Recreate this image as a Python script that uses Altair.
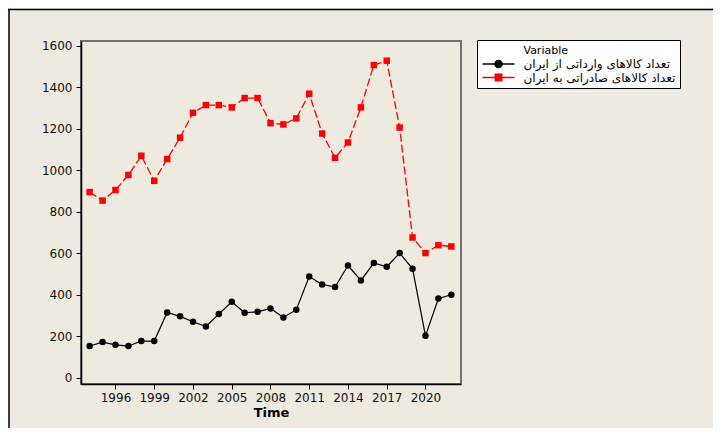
import altair as alt
import pandas as pd

years = list(range(1994, 2023))
imports_from_iran = [153, 172, 159, 153, 177, 177, 315, 296, 270, 247, 307, 366, 313, 318, 334,
                     291, 328, 488, 450, 437, 541, 469, 553, 535, 601, 525, 202, 382, 400]
exports_to_iran = [895, 854, 905, 977, 1070, 949, 1054, 1157, 1277, 1314, 1314, 1303, 1348, 1348, 1227,
                   1221, 1250, 1369, 1177, 1060, 1134, 1303, 1507, 1528, 1206, 676, 601, 639, 633]
series_names = ["تعداد کالاهای وارداتی از ایران", "تعداد کالاهای صادراتی به ایران"]
x_ticks = [1996, 1999, 2002, 2005, 2008, 2011, 2014, 2017, 2020]
y_ticks = [0, 200, 400, 600, 800, 1000, 1200, 1400, 1600]

rows = []
for y, v in zip(years, imports_from_iran):
    rows.append({"Time": y, "Value": v, "Variable": series_names[0]})
for y, v in zip(years, exports_to_iran):
    rows.append({"Time": y, "Value": v, "Variable": series_names[1]})
df = pd.DataFrame(rows)

FONT = "DejaVu Sans"
BLACK = "#000000"
RED = "#ff0000"

x_enc = alt.X("Time:Q",
              scale=alt.Scale(domain=[1993.33, 2022.75], nice=False, zero=False),
              axis=alt.Axis(values=x_ticks, format="d", title="Time", grid=False,
                            labelPadding=3, titlePadding=3, tickSize=5))
y_enc = alt.Y("Value:Q",
              scale=alt.Scale(domain=[-30, 1623], nice=False, zero=False),
              axis=alt.Axis(values=y_ticks, format="d", title=None, grid=False,
                            labelPadding=4, tickSize=5))

base = alt.Chart(df)

black_line = base.transform_filter(alt.datum.Variable == series_names[0]).mark_line(
    color=BLACK, strokeWidth=1.2).encode(x=x_enc, y=y_enc)
black_pts = base.transform_filter(alt.datum.Variable == series_names[0]).mark_point(
    shape="circle", filled=True, color=BLACK, size=42, opacity=1).encode(x=x_enc, y=y_enc)
red_line = base.transform_filter(alt.datum.Variable == series_names[1]).mark_line(
    color=RED, strokeWidth=1.3, strokeDash=[8, 3]).encode(x=x_enc, y=y_enc)
red_pts = base.transform_filter(alt.datum.Variable == series_names[1]).mark_point(
    shape="square", filled=True, color=RED, size=42, opacity=1).encode(x=x_enc, y=y_enc)

sym_circle = "M-1,0H1M0.22,0A0.22,0.22,0,1,1,-0.22,0A0.22,0.22,0,1,1,0.22,0Z"
sym_square = "M-1,0H1M-0.2,-0.2H0.2V0.2H-0.2Z"

leg = alt.Legend(
    title="\u200b" + "\u00a0" * 12 + "Variable", orient="none", legendX=396, legendY=-1,
    direction="vertical", fillColor="white", strokeColor="black", padding=4.5,
    titleFontSize=11, titleFontWeight="normal", titleFont=FONT, titleColor="black",
    titlePadding=2.5, labelFontSize=12, labelFont=FONT, labelColor="black",
    labelOffset=8, symbolSize=1024, symbolStrokeWidth=1.5, clipHeight=12,
    rowPadding=1.5, labelLimit=400)

legend_layer = base.transform_filter("false").mark_point(
    filled=True, opacity=1, strokeWidth=1.5, size=1024).encode(
    shape=alt.Shape("Variable:N", scale=alt.Scale(domain=series_names, range=[sym_circle, sym_square]), legend=leg),
    fill=alt.Fill("Variable:N", scale=alt.Scale(domain=series_names, range=[BLACK, RED]), legend=leg),
    stroke=alt.Stroke("Variable:N", scale=alt.Scale(domain=series_names, range=[BLACK, RED]), legend=leg),
)

one = alt.Data(values=[{"a": 1}])
border_top = alt.Chart(one).mark_rule(color="black", strokeWidth=1.5).encode(
    x=alt.value(-73), x2=alt.value(640), y=alt.value(-31.5))
border_left = alt.Chart(one).mark_rule(color="black", strokeWidth=1.5).encode(
    x=alt.value(-72), y=alt.value(-31.5), y2=alt.value(390))

chart = alt.layer(
    border_top, border_left, red_line, black_line, red_pts, black_pts, legend_layer
).properties(
    width=380, height=343,
    autosize=alt.AutoSizeParams(type="none"),
    padding={"left": 73, "top": 33, "right": 252, "bottom": 44},
    background="#EEEAE0",
).configure_view(
    fill="white", stroke="#707070", strokeWidth=2
).configure_axis(
    domainColor="black", domainWidth=1.5, tickColor="black", tickWidth=1,
    labelFont=FONT, labelFontSize=12, labelColor="#111111",
    titleFont=FONT, titleFontSize=13, titleFontWeight="bold", titleColor="black"
)

chart.save("out.html", embed_options={"renderer": "svg", "actions": False})
